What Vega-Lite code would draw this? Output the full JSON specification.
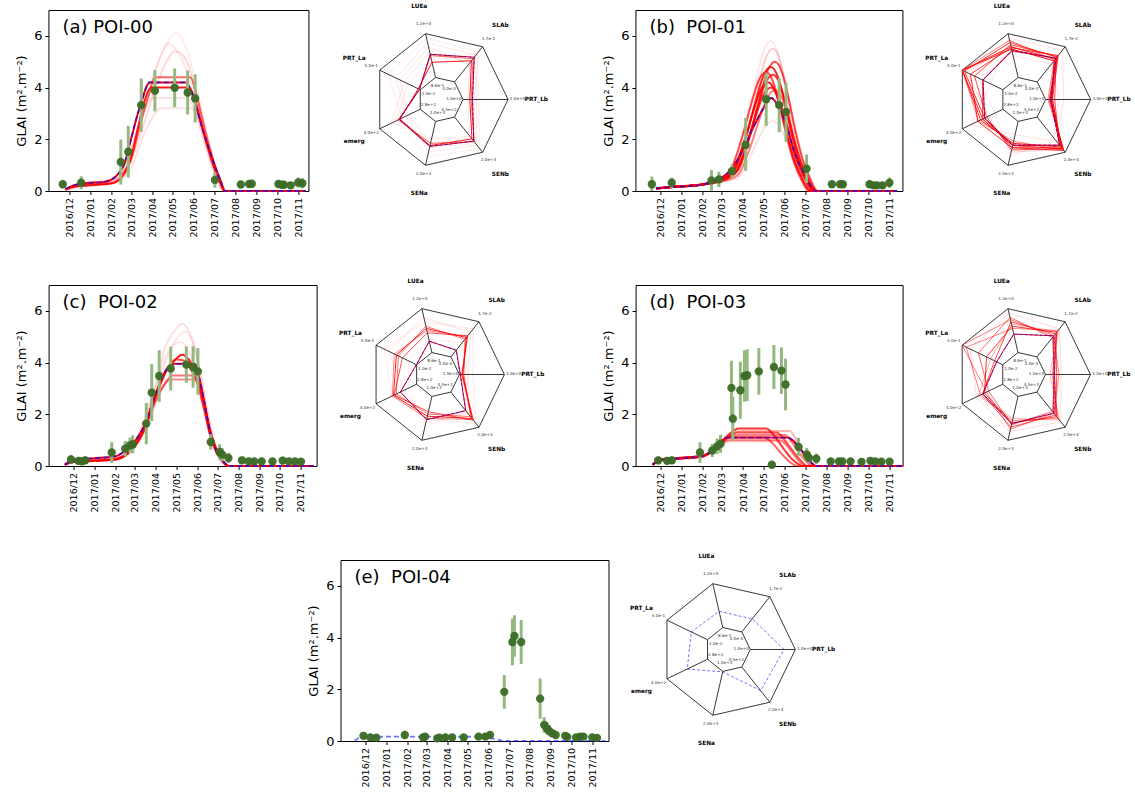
{
"$schema":"https://vega.github.io/schema/vega-lite/v6.json",
"padding":{"left":15,"top":3,"right":0,"bottom":0},
"config":{"view":{"stroke":"black","strokeWidth":1},"font":"DejaVu Sans","text":{"font":"DejaVu Sans"},
"title":{"anchor":"start","frame":"group","offset":-27,"dx":14,"fontSize":18,"fontWeight":"normal","font":"DejaVu Sans","color":"black"},
"axis":{"grid":false,"domain":false,"tickColor":"black","labelColor":"black","titleColor":"black","titleFontWeight":"normal","labelFont":"DejaVu Sans","titleFont":"DejaVu Sans"},
"axisX":{"labelAngle":-90,"labelFontSize":9.5,"tickSize":3.5,"labelPadding":3,"labelFlush":false,"labelOverlap":false,"format":"%Y/%m","title":null},
"axisY":{"labelFontSize":13,"titleFontSize":13,"tickSize":3.5,"labelPadding":3,"titlePadding":5,"labelFlush":false}},
"datasets":{
"axes":[{"k":0,"name":"PRT_Lb","hi":"1.0e+0","lo":"1.0e+0","ri":0.3333,"ro":1},{"k":1,"name":"SLAb","hi":"1.7e-2","lo":"4.0e-3","ri":0.3333,"ro":1},{"k":2,"name":"LUEa","hi":"1.2e+0","lo":"8.6e-1","ri":0.3333,"ro":1},{"k":3,"name":"PRT_La","hi":"5.0e-1","lo":"1.0e-2","ri":0.3333,"ro":1},{"k":4,"name":"emerg","hi":"4.0e+2","lo":"2.8e+2","ri":0.3333,"ro":1},{"k":5,"name":"SENa","hi":"2.0e+3","lo":"1.0e+3","ri":0.3333,"ro":1},{"k":6,"name":"SENb","hi":"2.0e+4","lo":"4.5e+2","ri":0.3333,"ro":1}],
"mem":[{"m":"a0","w":1},{"m":"a1","w":0.9},{"m":"a2","w":0.6},{"m":"a3","w":0.15},{"m":"a4","w":0.1},{"m":"a5","w":0.12},{"m":"a6","w":0.12},{"m":"a7","w":0.07},
{"m":"b0","w":1},{"m":"b1","w":0.85},{"m":"b2","w":0.8},{"m":"b3","w":0.9},{"m":"b4","w":0.7},{"m":"b5","w":0.5},{"m":"b6","w":0.7},{"m":"b7","w":0.2},{"m":"b8","w":0.12},{"m":"b9","w":0.1},{"m":"b10","w":0.8},
{"m":"c0","w":1},{"m":"c1","w":0.9},{"m":"c2","w":0.7},{"m":"c3","w":0.55},{"m":"c4","w":0.45},{"m":"c5","w":0.12},{"m":"c6","w":0.1},{"m":"c7","w":0.1},
{"m":"d0","w":1},{"m":"d1","w":0.8},{"m":"d2","w":0.7},{"m":"d3","w":0.5},{"m":"d4","w":0.5},{"m":"d5","w":0.3},{"m":"d6","w":0.6},{"m":"d7","w":0.15},
{"m":"e0","w":0}],
"rad":[
{"m":"a0","w":1,"LUEa":0.53,"SLAb":0.7,"PRT_Lb":0.21,"SENb":0.685,"SENa":0.57,"emerg":0.52,"PRT_La":0.02},
{"m":"a1","w":0.9,"LUEa":0.35,"SLAb":0.6,"PRT_Lb":0.15,"SENb":0.62,"SENa":0.55,"emerg":0.5,"PRT_La":0.05},
{"m":"a2","w":0.6,"LUEa":0.5,"SLAb":0.66,"PRT_Lb":0.18,"SENb":0.7,"SENa":0.5,"emerg":0.55,"PRT_La":0.02},
{"m":"a3","w":0.1,"LUEa":0.8,"SLAb":0.75,"PRT_Lb":0.3,"SENb":0.8,"SENa":0.7,"emerg":0.35,"PRT_La":0.6},
{"m":"a4","w":0.1,"LUEa":0.6,"SLAb":0.55,"PRT_Lb":0.1,"SENb":0.55,"SENa":0.4,"emerg":0.7,"PRT_La":0.4},
{"m":"a5","w":0.08,"LUEa":0.9,"SLAb":0.85,"PRT_Lb":0.25,"SENb":0.75,"SENa":0.6,"emerg":0.45,"PRT_La":0.8},
{"m":"a6","w":0.08,"LUEa":0.4,"SLAb":0.8,"PRT_Lb":0.35,"SENb":0.9,"SENa":0.8,"emerg":0.6,"PRT_La":0.3},
{"m":"a7","w":0.1,"LUEa":0.7,"SLAb":0.5,"PRT_Lb":0.2,"SENb":0.6,"SENa":0.5,"emerg":0.3,"PRT_La":0.5},
{"m":"b0","w":1,"LUEa":0.62,"SLAb":0.67,"PRT_Lb":0.115,"SENb":0.8,"SENa":0.54,"emerg":0.45,"PRT_La":0.49},
{"m":"b1","w":0.85,"LUEa":0.7,"SLAb":0.65,"PRT_Lb":0.1,"SENb":0.9,"SENa":0.55,"emerg":0.5,"PRT_La":1.0},
{"m":"b2","w":0.8,"LUEa":0.8,"SLAb":0.7,"PRT_Lb":0.08,"SENb":0.95,"SENa":0.6,"emerg":0.45,"PRT_La":0.95},
{"m":"b3","w":0.9,"LUEa":0.65,"SLAb":0.6,"PRT_Lb":0.15,"SENb":0.85,"SENa":0.5,"emerg":0.55,"PRT_La":1.0},
{"m":"b4","w":0.7,"LUEa":0.75,"SLAb":0.72,"PRT_Lb":0.12,"SENb":0.9,"SENa":0.65,"emerg":0.4,"PRT_La":0.7},
{"m":"b5","w":0.5,"LUEa":0.85,"SLAb":0.62,"PRT_Lb":0.05,"SENb":0.95,"SENa":0.45,"emerg":0.6,"PRT_La":1.0},
{"m":"b6","w":0.7,"LUEa":0.6,"SLAb":0.68,"PRT_Lb":0.2,"SENb":0.8,"SENa":0.55,"emerg":0.5,"PRT_La":0.5},
{"m":"b7","w":0.2,"LUEa":0.72,"SLAb":0.58,"PRT_Lb":0.1,"SENb":0.92,"SENa":0.7,"emerg":0.35,"PRT_La":0.9},
{"m":"b8","w":0.12,"LUEa":0.9,"SLAb":0.9,"PRT_Lb":0.4,"SENb":0.7,"SENa":0.3,"emerg":0.8,"PRT_La":0.3},
{"m":"b9","w":0.1,"LUEa":0.5,"SLAb":0.5,"PRT_Lb":0.3,"SENb":0.6,"SENa":0.8,"emerg":0.2,"PRT_La":0.6},
{"m":"b10","w":0.8,"LUEa":0.68,"SLAb":0.75,"PRT_Lb":0.15,"SENb":0.88,"SENa":0.6,"emerg":0.62,"PRT_La":0.8},
{"m":"c0","w":1,"LUEa":0.26,"SLAb":0.19,"PRT_Lb":0.02,"SENb":0.53,"SENa":0.53,"emerg":0.4,"PRT_La":0.005},
{"m":"c1","w":0.9,"LUEa":0.55,"SLAb":0.55,"PRT_Lb":0.07,"SENb":0.75,"SENa":0.45,"emerg":0.57,"PRT_La":0.5},
{"m":"c2","w":0.7,"LUEa":0.45,"SLAb":0.6,"PRT_Lb":0.05,"SENb":0.8,"SENa":0.35,"emerg":0.55,"PRT_La":0.35},
{"m":"c3","w":0.55,"LUEa":0.6,"SLAb":0.5,"PRT_Lb":0.1,"SENb":0.7,"SENa":0.4,"emerg":0.5,"PRT_La":0.45},
{"m":"c4","w":0.45,"LUEa":0.5,"SLAb":0.58,"PRT_Lb":0.08,"SENb":0.78,"SENa":0.5,"emerg":0.6,"PRT_La":0.55},
{"m":"c5","w":0.12,"LUEa":0.8,"SLAb":0.7,"PRT_Lb":0.2,"SENb":0.6,"SENa":0.6,"emerg":0.3,"PRT_La":0.7},
{"m":"c6","w":0.1,"LUEa":0.7,"SLAb":0.8,"PRT_Lb":0.3,"SENb":0.9,"SENa":0.5,"emerg":0.6,"PRT_La":0.8},
{"m":"c7","w":0.1,"LUEa":0.3,"SLAb":0.4,"PRT_Lb":0.15,"SENb":0.5,"SENa":0.7,"emerg":0.2,"PRT_La":0.2},
{"m":"d0","w":1,"LUEa":0.42,"SLAb":0.6,"PRT_Lb":0.19,"SENb":0.6,"SENa":0.62,"emerg":0.49,"PRT_La":0.15},
{"m":"d1","w":0.8,"LUEa":0.6,"SLAb":0.7,"PRT_Lb":0.2,"SENb":0.7,"SENa":0.6,"emerg":0.45,"PRT_La":0.4},
{"m":"d2","w":0.7,"LUEa":0.7,"SLAb":0.65,"PRT_Lb":0.25,"SENb":0.65,"SENa":0.7,"emerg":0.5,"PRT_La":0.2},
{"m":"d3","w":0.5,"LUEa":0.55,"SLAb":0.75,"PRT_Lb":0.15,"SENb":0.75,"SENa":0.55,"emerg":0.55,"PRT_La":0.9},
{"m":"d4","w":0.5,"LUEa":0.75,"SLAb":0.6,"PRT_Lb":0.3,"SENb":0.6,"SENa":0.75,"emerg":0.4,"PRT_La":1.0},
{"m":"d5","w":0.3,"LUEa":0.65,"SLAb":0.72,"PRT_Lb":0.1,"SENb":0.8,"SENa":0.5,"emerg":0.6,"PRT_La":0.3},
{"m":"d6","w":0.6,"LUEa":0.8,"SLAb":0.55,"PRT_Lb":0.2,"SENb":0.55,"SENa":0.65,"emerg":0.35,"PRT_La":0.6},
{"m":"d7","w":0.15,"LUEa":0.9,"SLAb":0.8,"PRT_Lb":0.35,"SENb":0.85,"SENa":0.8,"emerg":0.65,"PRT_La":0.8},
{"m":"e0","w":0,"LUEa":0.37,"SLAb":0.37,"PRT_Lb":0.75,"SENb":0.67,"SENa":0.01,"emerg":0.5,"PRT_La":0.4}],
"obs":[
{"p":"a","d":"2016-11-21","v":0.26,"lo":0.11,"hi":0.41},{"p":"a","d":"2016-12-18","v":0.32,"lo":0.07,"hi":0.57},{"p":"a","d":"2017-02-14","v":1.12,"lo":0.25,"hi":1.99},{"p":"a","d":"2017-02-25","v":1.52,"lo":0.52,"hi":2.52},{"p":"a","d":"2017-03-16","v":3.32,"lo":2.29,"hi":4.35},{"p":"a","d":"2017-04-05","v":3.88,"lo":3.08,"hi":4.68},{"p":"a","d":"2017-05-04","v":3.99,"lo":3.24,"hi":4.74},{"p":"a","d":"2017-05-23","v":3.81,"lo":2.96,"hi":4.66},{"p":"a","d":"2017-06-03","v":3.58,"lo":2.65,"hi":4.51},{"p":"a","d":"2017-07-02","v":0.43,"lo":0.13,"hi":0.73},{"p":"a","d":"2017-08-09","v":0.25,"lo":0.13,"hi":0.37},{"p":"a","d":"2017-08-21","v":0.27,"lo":0.12,"hi":0.42},{"p":"a","d":"2017-08-25","v":0.28,"lo":0.13,"hi":0.43},{"p":"a","d":"2017-10-03","v":0.27,"lo":0.12,"hi":0.42},{"p":"a","d":"2017-10-08","v":0.24,"lo":0.12,"hi":0.36},{"p":"a","d":"2017-10-11","v":0.24,"lo":0.12,"hi":0.36},{"p":"a","d":"2017-10-21","v":0.22,"lo":0.1,"hi":0.34},{"p":"a","d":"2017-11-01","v":0.33,"lo":0.13,"hi":0.53},{"p":"a","d":"2017-11-07","v":0.3,"lo":0.1,"hi":0.5},
{"p":"b","d":"2016-11-19","v":0.26,"lo":0.0,"hi":0.56},{"p":"b","d":"2016-12-18","v":0.32,"lo":0.12,"hi":0.52},{"p":"b","d":"2017-02-14","v":0.41,"lo":0.01,"hi":0.81},{"p":"b","d":"2017-02-25","v":0.45,"lo":0.15,"hi":0.75},{"p":"b","d":"2017-03-16","v":0.77,"lo":0.52,"hi":1.02},{"p":"b","d":"2017-04-05","v":1.78,"lo":0.78,"hi":2.83},{"p":"b","d":"2017-05-05","v":3.55,"lo":2.52,"hi":4.58},{"p":"b","d":"2017-05-24","v":3.32,"lo":2.27,"hi":4.37},{"p":"b","d":"2017-06-03","v":3.06,"lo":1.9,"hi":4.2},{"p":"b","d":"2017-07-03","v":0.86,"lo":0.31,"hi":1.41},{"p":"b","d":"2017-08-09","v":0.26,"lo":0.14,"hi":0.38},{"p":"b","d":"2017-08-21","v":0.26,"lo":0.14,"hi":0.38},{"p":"b","d":"2017-08-25","v":0.26,"lo":0.14,"hi":0.38},{"p":"b","d":"2017-10-03","v":0.26,"lo":0.14,"hi":0.38},{"p":"b","d":"2017-10-09","v":0.22,"lo":0.1,"hi":0.34},{"p":"b","d":"2017-10-14","v":0.22,"lo":0.1,"hi":0.34},{"p":"b","d":"2017-10-22","v":0.22,"lo":0.1,"hi":0.34},{"p":"b","d":"2017-11-01","v":0.32,"lo":0.12,"hi":0.52},
{"p":"c","d":"2016-11-27","v":0.25,"lo":0.08,"hi":0.42},{"p":"c","d":"2016-12-08","v":0.2,"lo":0.05,"hi":0.35},{"p":"c","d":"2016-12-13","v":0.18,"lo":0.03,"hi":0.33},{"p":"c","d":"2016-12-18","v":0.22,"lo":0.07,"hi":0.37},{"p":"c","d":"2017-01-26","v":0.52,"lo":0.12,"hi":0.92},{"p":"c","d":"2017-02-15","v":0.67,"lo":0.37,"hi":0.97},{"p":"c","d":"2017-02-22","v":0.8,"lo":0.5,"hi":1.1},{"p":"c","d":"2017-02-26","v":0.84,"lo":0.49,"hi":1.19},{"p":"c","d":"2017-03-18","v":1.64,"lo":0.84,"hi":2.44},{"p":"c","d":"2017-03-26","v":2.84,"lo":1.74,"hi":3.94},{"p":"c","d":"2017-04-06","v":3.48,"lo":2.48,"hi":4.48},{"p":"c","d":"2017-04-23","v":3.77,"lo":2.92,"hi":4.62},{"p":"c","d":"2017-05-16","v":3.92,"lo":3.22,"hi":4.62},{"p":"c","d":"2017-05-26","v":3.83,"lo":3.03,"hi":4.63},{"p":"c","d":"2017-06-02","v":3.66,"lo":2.76,"hi":4.56},{"p":"c","d":"2017-06-21","v":0.93,"lo":0.63,"hi":1.23},{"p":"c","d":"2017-07-04","v":0.54,"lo":0.24,"hi":0.84},{"p":"c","d":"2017-07-08","v":0.44,"lo":0.19,"hi":0.69},{"p":"c","d":"2017-07-17","v":0.31,"lo":0.11,"hi":0.51},{"p":"c","d":"2017-08-06","v":0.22,"lo":0.07,"hi":0.37},{"p":"c","d":"2017-08-16","v":0.18,"lo":0.05,"hi":0.31},{"p":"c","d":"2017-08-24","v":0.18,"lo":0.05,"hi":0.31},{"p":"c","d":"2017-09-04","v":0.18,"lo":0.05,"hi":0.31},{"p":"c","d":"2017-09-20","v":0.18,"lo":0.05,"hi":0.31},{"p":"c","d":"2017-10-05","v":0.21,"lo":0.06,"hi":0.36},{"p":"c","d":"2017-10-14","v":0.18,"lo":0.05,"hi":0.31},{"p":"c","d":"2017-10-23","v":0.18,"lo":0.05,"hi":0.31},{"p":"c","d":"2017-11-01","v":0.17,"lo":0.05,"hi":0.29},
{"p":"d","d":"2016-11-28","v":0.22,"lo":0.07,"hi":0.37},{"p":"d","d":"2016-12-11","v":0.2,"lo":0.05,"hi":0.35},{"p":"d","d":"2016-12-18","v":0.22,"lo":0.07,"hi":0.37},{"p":"d","d":"2017-01-28","v":0.52,"lo":0.12,"hi":0.92},{"p":"d","d":"2017-02-15","v":0.6,"lo":0.35,"hi":0.85},{"p":"d","d":"2017-02-22","v":0.76,"lo":0.46,"hi":1.06},{"p":"d","d":"2017-02-27","v":0.86,"lo":0.51,"hi":1.21},{"p":"d","d":"2017-03-15","v":3.02,"lo":1.97,"hi":4.07},{"p":"d","d":"2017-03-17","v":1.83,"lo":0.98,"hi":2.68},{"p":"d","d":"2017-03-28","v":2.93,"lo":1.83,"hi":4.03},{"p":"d","d":"2017-04-03","v":3.48,"lo":2.48,"hi":4.48},{"p":"d","d":"2017-04-07","v":3.51,"lo":2.51,"hi":4.51},{"p":"d","d":"2017-04-24","v":3.66,"lo":2.76,"hi":4.56},{"p":"d","d":"2017-05-13","v":0.05,"lo":0.0,"hi":0.1},{"p":"d","d":"2017-05-16","v":3.83,"lo":2.98,"hi":4.68},{"p":"d","d":"2017-05-27","v":3.69,"lo":2.79,"hi":4.59},{"p":"d","d":"2017-06-02","v":3.15,"lo":2.15,"hi":4.15},{"p":"d","d":"2017-06-21","v":0.74,"lo":0.39,"hi":1.09},{"p":"d","d":"2017-07-03","v":0.45,"lo":0.2,"hi":0.7},{"p":"d","d":"2017-07-06","v":0.32,"lo":0.12,"hi":0.52},{"p":"d","d":"2017-07-17","v":0.28,"lo":0.08,"hi":0.48},{"p":"d","d":"2017-08-07","v":0.18,"lo":0.05,"hi":0.31},{"p":"d","d":"2017-08-19","v":0.18,"lo":0.05,"hi":0.31},{"p":"d","d":"2017-08-24","v":0.18,"lo":0.05,"hi":0.31},{"p":"d","d":"2017-09-05","v":0.18,"lo":0.05,"hi":0.31},{"p":"d","d":"2017-09-21","v":0.16,"lo":0.04,"hi":0.28},{"p":"d","d":"2017-10-04","v":0.2,"lo":0.06,"hi":0.34},{"p":"d","d":"2017-10-11","v":0.18,"lo":0.05,"hi":0.31},{"p":"d","d":"2017-10-20","v":0.17,"lo":0.05,"hi":0.29},{"p":"d","d":"2017-11-01","v":0.17,"lo":0.05,"hi":0.29},
{"p":"e","d":"2016-11-28","v":0.2,"lo":0.05,"hi":0.35},{"p":"e","d":"2016-12-08","v":0.14,"lo":0.03,"hi":0.25},{"p":"e","d":"2016-12-17","v":0.13,"lo":0.03,"hi":0.23},{"p":"e","d":"2017-01-28","v":0.23,"lo":0.08,"hi":0.38},{"p":"e","d":"2017-02-24","v":0.14,"lo":0.03,"hi":0.25},{"p":"e","d":"2017-02-27","v":0.17,"lo":0.05,"hi":0.29},{"p":"e","d":"2017-03-17","v":0.1,"lo":0.02,"hi":0.2},{"p":"e","d":"2017-03-20","v":0.13,"lo":0.03,"hi":0.25},{"p":"e","d":"2017-03-29","v":0.14,"lo":0.03,"hi":0.27},{"p":"e","d":"2017-04-08","v":0.14,"lo":0.03,"hi":0.27},{"p":"e","d":"2017-04-25","v":0.14,"lo":0.03,"hi":0.27},{"p":"e","d":"2017-05-17","v":0.17,"lo":0.05,"hi":0.29},{"p":"e","d":"2017-05-27","v":0.17,"lo":0.05,"hi":0.29},{"p":"e","d":"2017-06-03","v":0.23,"lo":0.08,"hi":0.38},{"p":"e","d":"2017-06-24","v":1.9,"lo":1.25,"hi":2.55},{"p":"e","d":"2017-07-06","v":3.83,"lo":2.93,"hi":4.73},{"p":"e","d":"2017-07-09","v":4.06,"lo":3.26,"hi":4.86},{"p":"e","d":"2017-07-19","v":3.83,"lo":2.98,"hi":4.68},{"p":"e","d":"2017-08-16","v":1.64,"lo":0.86,"hi":2.42},{"p":"e","d":"2017-08-22","v":0.62,"lo":0.32,"hi":0.92},{"p":"e","d":"2017-08-26","v":0.49,"lo":0.24,"hi":0.74},{"p":"e","d":"2017-08-29","v":0.4,"lo":0.2,"hi":0.6},{"p":"e","d":"2017-09-03","v":0.3,"lo":0.15,"hi":0.45},{"p":"e","d":"2017-09-08","v":0.23,"lo":0.1,"hi":0.36},{"p":"e","d":"2017-09-22","v":0.2,"lo":0.07,"hi":0.33},{"p":"e","d":"2017-09-25","v":0.16,"lo":0.05,"hi":0.27},{"p":"e","d":"2017-10-08","v":0.14,"lo":0.03,"hi":0.25},{"p":"e","d":"2017-10-14","v":0.17,"lo":0.05,"hi":0.29},{"p":"e","d":"2017-10-19","v":0.17,"lo":0.05,"hi":0.29},{"p":"e","d":"2017-11-01","v":0.14,"lo":0.03,"hi":0.25},{"p":"e","d":"2017-11-08","v":0.12,"lo":0.02,"hi":0.22}],
"sim":[
{"m":"a0","d":"2016-11-25","v":0.08},{"m":"a0","d":"2016-12-05","v":0.2},{"m":"a0","d":"2016-12-25","v":0.3},{"m":"a0","d":"2017-01-20","v":0.35},{"m":"a0","d":"2017-02-01","v":0.45},{"m":"a0","d":"2017-02-10","v":0.65},{"m":"a0","d":"2017-02-20","v":1.1},{"m":"a0","d":"2017-03-01","v":2.0},{"m":"a0","d":"2017-03-10","v":2.9},{"m":"a0","d":"2017-03-17","v":3.5},{"m":"a0","d":"2017-03-24","v":4.05},{"m":"a0","d":"2017-03-28","v":4.2},{"m":"a0","d":"2017-05-20","v":4.2},{"m":"a0","d":"2017-05-27","v":3.95},{"m":"a0","d":"2017-06-05","v":3.2},{"m":"a0","d":"2017-06-15","v":2.3},{"m":"a0","d":"2017-06-25","v":1.5},{"m":"a0","d":"2017-07-05","v":0.75},{"m":"a0","d":"2017-07-11","v":0.35},{"m":"a0","d":"2017-07-15","v":0.05},{"m":"a0","d":"2017-07-16","v":0},{"m":"a0","d":"2017-11-12","v":0},
{"m":"a1","d":"2016-11-25","v":0.05},{"m":"a1","d":"2016-12-10","v":0.18},{"m":"a1","d":"2017-01-01","v":0.22},{"m":"a1","d":"2017-02-01","v":0.3},{"m":"a1","d":"2017-02-15","v":0.55},{"m":"a1","d":"2017-03-01","v":1.3},{"m":"a1","d":"2017-03-10","v":2.3},{"m":"a1","d":"2017-03-20","v":3.4},{"m":"a1","d":"2017-03-30","v":4.0},{"m":"a1","d":"2017-05-25","v":4.0},{"m":"a1","d":"2017-06-03","v":3.5},{"m":"a1","d":"2017-06-15","v":2.3},{"m":"a1","d":"2017-06-28","v":1.1},{"m":"a1","d":"2017-07-10","v":0.3},{"m":"a1","d":"2017-07-16","v":0},{"m":"a1","d":"2017-11-12","v":0},
{"m":"a2","d":"2016-11-25","v":0.05},{"m":"a2","d":"2016-12-10","v":0.2},{"m":"a2","d":"2017-01-01","v":0.25},{"m":"a2","d":"2017-02-01","v":0.3},{"m":"a2","d":"2017-02-15","v":0.5},{"m":"a2","d":"2017-03-01","v":1.2},{"m":"a2","d":"2017-03-15","v":2.6},{"m":"a2","d":"2017-03-28","v":3.8},{"m":"a2","d":"2017-04-05","v":4.4},{"m":"a2","d":"2017-05-27","v":4.4},{"m":"a2","d":"2017-06-05","v":3.7},{"m":"a2","d":"2017-06-15","v":2.6},{"m":"a2","d":"2017-06-28","v":1.3},{"m":"a2","d":"2017-07-10","v":0.35},{"m":"a2","d":"2017-07-17","v":0},{"m":"a2","d":"2017-11-12","v":0},
{"m":"a3","d":"2016-11-25","v":0.05},{"m":"a3","d":"2017-01-01","v":0.3},{"m":"a3","d":"2017-02-01","v":0.4},{"m":"a3","d":"2017-03-01","v":1.2},{"m":"a3","d":"2017-03-20","v":2.6},{"m":"a3","d":"2017-04-05","v":3.9},{"m":"a3","d":"2017-04-20","v":4.9},{"m":"a3","d":"2017-05-05","v":5.4},{"m":"a3","d":"2017-05-20","v":5.1},{"m":"a3","d":"2017-06-05","v":3.8},{"m":"a3","d":"2017-06-20","v":2.2},{"m":"a3","d":"2017-07-05","v":0.8},{"m":"a3","d":"2017-07-18","v":0},{"m":"a3","d":"2017-11-12","v":0},
{"m":"a4","d":"2016-11-25","v":0.05},{"m":"a4","d":"2017-01-01","v":0.35},{"m":"a4","d":"2017-02-01","v":0.45},{"m":"a4","d":"2017-03-01","v":1.6},{"m":"a4","d":"2017-03-20","v":3.3},{"m":"a4","d":"2017-04-10","v":5.0},{"m":"a4","d":"2017-04-25","v":5.7},{"m":"a4","d":"2017-05-10","v":5.3},{"m":"a4","d":"2017-05-25","v":4.4},{"m":"a4","d":"2017-06-10","v":2.9},{"m":"a4","d":"2017-06-25","v":1.4},{"m":"a4","d":"2017-07-10","v":0.3},{"m":"a4","d":"2017-07-18","v":0},{"m":"a4","d":"2017-11-12","v":0},
{"m":"a5","d":"2016-11-25","v":0.05},{"m":"a5","d":"2017-01-01","v":0.25},{"m":"a5","d":"2017-02-01","v":0.3},{"m":"a5","d":"2017-03-01","v":0.9},{"m":"a5","d":"2017-03-20","v":2.2},{"m":"a5","d":"2017-04-05","v":3.0},{"m":"a5","d":"2017-04-12","v":3.2},{"m":"a5","d":"2017-05-28","v":3.2},{"m":"a5","d":"2017-06-08","v":2.7},{"m":"a5","d":"2017-06-20","v":1.7},{"m":"a5","d":"2017-07-02","v":0.7},{"m":"a5","d":"2017-07-15","v":0},{"m":"a5","d":"2017-11-12","v":0},
{"m":"a6","d":"2016-11-25","v":0.05},{"m":"a6","d":"2017-01-01","v":0.28},{"m":"a6","d":"2017-02-01","v":0.35},{"m":"a6","d":"2017-03-01","v":1.5},{"m":"a6","d":"2017-03-15","v":2.8},{"m":"a6","d":"2017-03-28","v":3.5},{"m":"a6","d":"2017-04-01","v":3.6},{"m":"a6","d":"2017-05-22","v":3.6},{"m":"a6","d":"2017-06-02","v":3.1},{"m":"a6","d":"2017-06-15","v":2.0},{"m":"a6","d":"2017-06-28","v":0.9},{"m":"a6","d":"2017-07-12","v":0.1},{"m":"a6","d":"2017-07-15","v":0},{"m":"a6","d":"2017-11-12","v":0},
{"m":"a7","d":"2016-11-25","v":0.05},{"m":"a7","d":"2017-01-01","v":0.3},{"m":"a7","d":"2017-02-01","v":0.4},{"m":"a7","d":"2017-03-01","v":1.3},{"m":"a7","d":"2017-03-25","v":3.5},{"m":"a7","d":"2017-04-15","v":5.3},{"m":"a7","d":"2017-05-08","v":6.1},{"m":"a7","d":"2017-05-25","v":5.2},{"m":"a7","d":"2017-06-10","v":3.4},{"m":"a7","d":"2017-06-25","v":1.6},{"m":"a7","d":"2017-07-10","v":0.3},{"m":"a7","d":"2017-07-18","v":0},{"m":"a7","d":"2017-11-12","v":0},
{"m":"b0","d":"2016-11-25","v":0.1},{"m":"b0","d":"2016-12-15","v":0.15},{"m":"b0","d":"2017-01-15","v":0.2},{"m":"b0","d":"2017-02-01","v":0.25},{"m":"b0","d":"2017-02-15","v":0.35},{"m":"b0","d":"2017-03-01","v":0.5},{"m":"b0","d":"2017-03-15","v":0.85},{"m":"b0","d":"2017-04-01","v":1.6},{"m":"b0","d":"2017-04-15","v":2.4},{"m":"b0","d":"2017-05-01","v":3.2},{"m":"b0","d":"2017-05-12","v":3.6},{"m":"b0","d":"2017-05-20","v":3.4},{"m":"b0","d":"2017-05-25","v":3.15},{"m":"b0","d":"2017-06-04","v":2.55},{"m":"b0","d":"2017-06-14","v":1.6},{"m":"b0","d":"2017-06-22","v":1.05},{"m":"b0","d":"2017-06-29","v":0.7},{"m":"b0","d":"2017-07-08","v":0.25},{"m":"b0","d":"2017-07-16","v":0},{"m":"b0","d":"2017-11-12","v":0},
{"m":"b1","d":"2016-11-25","v":0.1},{"m":"b1","d":"2017-01-01","v":0.18},{"m":"b1","d":"2017-02-01","v":0.25},{"m":"b1","d":"2017-03-01","v":0.45},{"m":"b1","d":"2017-03-20","v":0.82},{"m":"b1","d":"2017-04-05","v":2.02},{"m":"b1","d":"2017-04-20","v":3.5},{"m":"b1","d":"2017-05-01","v":4.46},{"m":"b1","d":"2017-05-12","v":4.8},{"m":"b1","d":"2017-05-22","v":4.42},{"m":"b1","d":"2017-06-01","v":3.41},{"m":"b1","d":"2017-06-11","v":2.21},{"m":"b1","d":"2017-06-21","v":1.2},{"m":"b1","d":"2017-07-01","v":0.53},{"m":"b1","d":"2017-07-13","v":0},{"m":"b1","d":"2017-11-12","v":0},
{"m":"b2","d":"2016-11-25","v":0.1},{"m":"b2","d":"2017-01-01","v":0.18},{"m":"b2","d":"2017-02-01","v":0.25},{"m":"b2","d":"2017-03-04","v":0.45},{"m":"b2","d":"2017-03-23","v":0.77},{"m":"b2","d":"2017-04-08","v":1.89},{"m":"b2","d":"2017-04-23","v":3.29},{"m":"b2","d":"2017-05-04","v":4.19},{"m":"b2","d":"2017-05-15","v":4.5},{"m":"b2","d":"2017-05-25","v":4.14},{"m":"b2","d":"2017-06-04","v":3.2},{"m":"b2","d":"2017-06-14","v":2.07},{"m":"b2","d":"2017-06-24","v":1.13},{"m":"b2","d":"2017-07-04","v":0.5},{"m":"b2","d":"2017-07-16","v":0},{"m":"b2","d":"2017-11-12","v":0},
{"m":"b3","d":"2016-11-25","v":0.1},{"m":"b3","d":"2017-01-01","v":0.18},{"m":"b3","d":"2017-02-01","v":0.25},{"m":"b3","d":"2017-02-25","v":0.45},{"m":"b3","d":"2017-03-16","v":0.71},{"m":"b3","d":"2017-04-01","v":1.76},{"m":"b3","d":"2017-04-16","v":3.07},{"m":"b3","d":"2017-04-27","v":3.91},{"m":"b3","d":"2017-05-08","v":4.2},{"m":"b3","d":"2017-05-18","v":3.86},{"m":"b3","d":"2017-05-28","v":2.98},{"m":"b3","d":"2017-06-07","v":1.93},{"m":"b3","d":"2017-06-17","v":1.05},{"m":"b3","d":"2017-06-27","v":0.46},{"m":"b3","d":"2017-07-09","v":0},{"m":"b3","d":"2017-11-12","v":0},
{"m":"b4","d":"2016-11-25","v":0.1},{"m":"b4","d":"2017-01-01","v":0.18},{"m":"b4","d":"2017-02-01","v":0.25},{"m":"b4","d":"2017-03-07","v":0.45},{"m":"b4","d":"2017-03-26","v":0.85},{"m":"b4","d":"2017-04-11","v":2.1},{"m":"b4","d":"2017-04-26","v":3.65},{"m":"b4","d":"2017-05-07","v":4.65},{"m":"b4","d":"2017-05-18","v":5.0},{"m":"b4","d":"2017-05-28","v":4.6},{"m":"b4","d":"2017-06-07","v":3.55},{"m":"b4","d":"2017-06-17","v":2.3},{"m":"b4","d":"2017-06-27","v":1.25},{"m":"b4","d":"2017-07-07","v":0.55},{"m":"b4","d":"2017-07-19","v":0},{"m":"b4","d":"2017-11-12","v":0},
{"m":"b5","d":"2016-11-25","v":0.1},{"m":"b5","d":"2017-01-01","v":0.18},{"m":"b5","d":"2017-02-01","v":0.25},{"m":"b5","d":"2017-03-07","v":0.4},{"m":"b5","d":"2017-03-26","v":0.66},{"m":"b5","d":"2017-04-11","v":1.64},{"m":"b5","d":"2017-04-26","v":2.85},{"m":"b5","d":"2017-05-07","v":3.63},{"m":"b5","d":"2017-05-18","v":3.9},{"m":"b5","d":"2017-05-28","v":3.59},{"m":"b5","d":"2017-06-07","v":2.77},{"m":"b5","d":"2017-06-17","v":1.79},{"m":"b5","d":"2017-06-27","v":0.98},{"m":"b5","d":"2017-07-07","v":0.43},{"m":"b5","d":"2017-07-19","v":0},{"m":"b5","d":"2017-11-12","v":0},
{"m":"b6","d":"2016-11-25","v":0.1},{"m":"b6","d":"2017-01-01","v":0.18},{"m":"b6","d":"2017-02-01","v":0.25},{"m":"b6","d":"2017-02-22","v":0.45},{"m":"b6","d":"2017-03-13","v":0.78},{"m":"b6","d":"2017-03-29","v":1.93},{"m":"b6","d":"2017-04-13","v":3.36},{"m":"b6","d":"2017-04-24","v":4.28},{"m":"b6","d":"2017-05-05","v":4.6},{"m":"b6","d":"2017-05-15","v":4.23},{"m":"b6","d":"2017-05-25","v":3.27},{"m":"b6","d":"2017-06-04","v":2.12},{"m":"b6","d":"2017-06-14","v":1.15},{"m":"b6","d":"2017-06-24","v":0.51},{"m":"b6","d":"2017-07-06","v":0},{"m":"b6","d":"2017-11-12","v":0},
{"m":"b7","d":"2016-11-25","v":0.1},{"m":"b7","d":"2017-01-01","v":0.18},{"m":"b7","d":"2017-02-01","v":0.25},{"m":"b7","d":"2017-03-04","v":0.45},{"m":"b7","d":"2017-03-23","v":0.94},{"m":"b7","d":"2017-04-08","v":2.31},{"m":"b7","d":"2017-04-23","v":4.02},{"m":"b7","d":"2017-05-04","v":5.12},{"m":"b7","d":"2017-05-15","v":5.5},{"m":"b7","d":"2017-05-25","v":5.06},{"m":"b7","d":"2017-06-04","v":3.91},{"m":"b7","d":"2017-06-14","v":2.53},{"m":"b7","d":"2017-06-24","v":1.38},{"m":"b7","d":"2017-07-04","v":0.61},{"m":"b7","d":"2017-07-16","v":0},{"m":"b7","d":"2017-11-12","v":0},
{"m":"b8","d":"2016-11-25","v":0.1},{"m":"b8","d":"2017-01-01","v":0.18},{"m":"b8","d":"2017-02-01","v":0.25},{"m":"b8","d":"2017-03-04","v":0.4},{"m":"b8","d":"2017-03-23","v":0.46},{"m":"b8","d":"2017-04-08","v":1.13},{"m":"b8","d":"2017-04-23","v":1.97},{"m":"b8","d":"2017-05-04","v":2.51},{"m":"b8","d":"2017-05-15","v":2.7},{"m":"b8","d":"2017-05-25","v":2.48},{"m":"b8","d":"2017-06-04","v":1.92},{"m":"b8","d":"2017-06-14","v":1.24},{"m":"b8","d":"2017-06-24","v":0.68},{"m":"b8","d":"2017-07-04","v":0.3},{"m":"b8","d":"2017-07-16","v":0},{"m":"b8","d":"2017-11-12","v":0},
{"m":"b9","d":"2016-11-25","v":0.1},{"m":"b9","d":"2017-01-01","v":0.18},{"m":"b9","d":"2017-02-01","v":0.25},{"m":"b9","d":"2017-03-01","v":0.45},{"m":"b9","d":"2017-03-20","v":0.99},{"m":"b9","d":"2017-04-05","v":2.44},{"m":"b9","d":"2017-04-20","v":4.23},{"m":"b9","d":"2017-05-01","v":5.39},{"m":"b9","d":"2017-05-12","v":5.8},{"m":"b9","d":"2017-05-22","v":5.34},{"m":"b9","d":"2017-06-01","v":4.12},{"m":"b9","d":"2017-06-11","v":2.67},{"m":"b9","d":"2017-06-21","v":1.45},{"m":"b9","d":"2017-07-01","v":0.64},{"m":"b9","d":"2017-07-13","v":0},{"m":"b9","d":"2017-11-12","v":0},
{"m":"b10","d":"2016-11-25","v":0.1},{"m":"b10","d":"2017-01-01","v":0.18},{"m":"b10","d":"2017-02-01","v":0.25},{"m":"b10","d":"2017-03-01","v":0.45},{"m":"b10","d":"2017-03-20","v":0.68},{"m":"b10","d":"2017-04-05","v":1.68},{"m":"b10","d":"2017-04-20","v":2.92},{"m":"b10","d":"2017-05-01","v":3.72},{"m":"b10","d":"2017-05-12","v":4.0},{"m":"b10","d":"2017-05-22","v":3.68},{"m":"b10","d":"2017-06-01","v":2.84},{"m":"b10","d":"2017-06-11","v":1.84},{"m":"b10","d":"2017-06-21","v":1.0},{"m":"b10","d":"2017-07-01","v":0.44},{"m":"b10","d":"2017-07-13","v":0},{"m":"b10","d":"2017-11-12","v":0},
{"m":"c0","d":"2016-11-18","v":0.05},{"m":"c0","d":"2016-12-01","v":0.25},{"m":"c0","d":"2017-01-01","v":0.3},{"m":"c0","d":"2017-02-01","v":0.38},{"m":"c0","d":"2017-02-15","v":0.6},{"m":"c0","d":"2017-03-01","v":0.95},{"m":"c0","d":"2017-03-15","v":1.55},{"m":"c0","d":"2017-04-01","v":2.8},{"m":"c0","d":"2017-04-10","v":3.4},{"m":"c0","d":"2017-04-20","v":3.85},{"m":"c0","d":"2017-04-28","v":3.95},{"m":"c0","d":"2017-05-28","v":3.95},{"m":"c0","d":"2017-06-05","v":3.3},{"m":"c0","d":"2017-06-12","v":2.4},{"m":"c0","d":"2017-06-20","v":1.3},{"m":"c0","d":"2017-06-27","v":0.75},{"m":"c0","d":"2017-07-05","v":0.35},{"m":"c0","d":"2017-07-12","v":0.1},{"m":"c0","d":"2017-07-17","v":0},{"m":"c0","d":"2017-11-20","v":0},
{"m":"c1","d":"2016-11-18","v":0.05},{"m":"c1","d":"2016-12-01","v":0.15},{"m":"c1","d":"2017-01-01","v":0.2},{"m":"c1","d":"2017-02-01","v":0.25},{"m":"c1","d":"2017-02-15","v":0.4},{"m":"c1","d":"2017-03-01","v":0.75},{"m":"c1","d":"2017-03-15","v":1.4},{"m":"c1","d":"2017-04-01","v":2.7},{"m":"c1","d":"2017-04-15","v":3.6},{"m":"c1","d":"2017-05-01","v":4.15},{"m":"c1","d":"2017-05-10","v":4.3},{"m":"c1","d":"2017-05-20","v":4.1},{"m":"c1","d":"2017-06-01","v":3.5},{"m":"c1","d":"2017-06-10","v":2.6},{"m":"c1","d":"2017-06-20","v":1.4},{"m":"c1","d":"2017-07-01","v":0.55},{"m":"c1","d":"2017-07-12","v":0.1},{"m":"c1","d":"2017-07-17","v":0},{"m":"c1","d":"2017-11-20","v":0},
{"m":"c2","d":"2016-11-18","v":0.05},{"m":"c2","d":"2016-12-01","v":0.15},{"m":"c2","d":"2017-01-01","v":0.2},{"m":"c2","d":"2017-02-01","v":0.25},{"m":"c2","d":"2017-02-15","v":0.4},{"m":"c2","d":"2017-03-01","v":0.8},{"m":"c2","d":"2017-03-15","v":1.5},{"m":"c2","d":"2017-04-01","v":2.8},{"m":"c2","d":"2017-04-15","v":3.65},{"m":"c2","d":"2017-05-01","v":4.12},{"m":"c2","d":"2017-05-10","v":4.1},{"m":"c2","d":"2017-05-20","v":3.85},{"m":"c2","d":"2017-06-01","v":3.2},{"m":"c2","d":"2017-06-10","v":2.3},{"m":"c2","d":"2017-06-20","v":1.2},{"m":"c2","d":"2017-07-01","v":0.45},{"m":"c2","d":"2017-07-12","v":0.08},{"m":"c2","d":"2017-07-17","v":0},{"m":"c2","d":"2017-11-20","v":0},
{"m":"c3","d":"2016-11-18","v":0.05},{"m":"c3","d":"2016-12-01","v":0.15},{"m":"c3","d":"2017-01-01","v":0.2},{"m":"c3","d":"2017-02-01","v":0.25},{"m":"c3","d":"2017-02-15","v":0.4},{"m":"c3","d":"2017-03-01","v":0.75},{"m":"c3","d":"2017-03-15","v":1.35},{"m":"c3","d":"2017-04-01","v":2.5},{"m":"c3","d":"2017-04-15","v":3.2},{"m":"c3","d":"2017-04-25","v":3.5},{"m":"c3","d":"2017-05-28","v":3.5},{"m":"c3","d":"2017-06-05","v":3.0},{"m":"c3","d":"2017-06-12","v":2.2},{"m":"c3","d":"2017-06-20","v":1.2},{"m":"c3","d":"2017-06-27","v":0.65},{"m":"c3","d":"2017-07-05","v":0.3},{"m":"c3","d":"2017-07-12","v":0.08},{"m":"c3","d":"2017-07-17","v":0},{"m":"c3","d":"2017-11-20","v":0},
{"m":"c4","d":"2016-11-18","v":0.05},{"m":"c4","d":"2016-12-01","v":0.18},{"m":"c4","d":"2017-01-01","v":0.22},{"m":"c4","d":"2017-02-01","v":0.28},{"m":"c4","d":"2017-02-15","v":0.45},{"m":"c4","d":"2017-03-01","v":0.8},{"m":"c4","d":"2017-03-15","v":1.45},{"m":"c4","d":"2017-04-01","v":2.6},{"m":"c4","d":"2017-04-15","v":3.2},{"m":"c4","d":"2017-04-22","v":3.35},{"m":"c4","d":"2017-05-30","v":3.35},{"m":"c4","d":"2017-06-07","v":2.9},{"m":"c4","d":"2017-06-14","v":2.1},{"m":"c4","d":"2017-06-22","v":1.1},{"m":"c4","d":"2017-06-29","v":0.55},{"m":"c4","d":"2017-07-07","v":0.22},{"m":"c4","d":"2017-07-14","v":0.05},{"m":"c4","d":"2017-07-18","v":0},{"m":"c4","d":"2017-11-20","v":0},
{"m":"c5","d":"2016-11-18","v":0.05},{"m":"c5","d":"2016-12-01","v":0.18},{"m":"c5","d":"2017-01-01","v":0.25},{"m":"c5","d":"2017-02-01","v":0.3},{"m":"c5","d":"2017-03-01","v":0.9},{"m":"c5","d":"2017-03-15","v":1.8},{"m":"c5","d":"2017-04-01","v":3.2},{"m":"c5","d":"2017-04-15","v":4.6},{"m":"c5","d":"2017-05-01","v":5.3},{"m":"c5","d":"2017-05-10","v":5.5},{"m":"c5","d":"2017-05-20","v":5.2},{"m":"c5","d":"2017-06-01","v":4.2},{"m":"c5","d":"2017-06-10","v":3.0},{"m":"c5","d":"2017-06-20","v":1.6},{"m":"c5","d":"2017-07-01","v":0.6},{"m":"c5","d":"2017-07-12","v":0.1},{"m":"c5","d":"2017-07-17","v":0},{"m":"c5","d":"2017-11-20","v":0},
{"m":"c6","d":"2016-11-18","v":0.05},{"m":"c6","d":"2016-12-01","v":0.18},{"m":"c6","d":"2017-01-01","v":0.25},{"m":"c6","d":"2017-02-01","v":0.3},{"m":"c6","d":"2017-03-01","v":0.8},{"m":"c6","d":"2017-03-15","v":1.5},{"m":"c6","d":"2017-04-01","v":2.8},{"m":"c6","d":"2017-04-15","v":4.0},{"m":"c6","d":"2017-05-01","v":4.9},{"m":"c6","d":"2017-05-15","v":5.2},{"m":"c6","d":"2017-05-25","v":4.8},{"m":"c6","d":"2017-06-05","v":3.7},{"m":"c6","d":"2017-06-15","v":2.3},{"m":"c6","d":"2017-06-25","v":1.0},{"m":"c6","d":"2017-07-05","v":0.3},{"m":"c6","d":"2017-07-15","v":0},{"m":"c6","d":"2017-11-20","v":0},
{"m":"c7","d":"2016-11-18","v":0.05},{"m":"c7","d":"2016-12-01","v":0.18},{"m":"c7","d":"2017-01-01","v":0.25},{"m":"c7","d":"2017-02-01","v":0.3},{"m":"c7","d":"2017-03-01","v":0.9},{"m":"c7","d":"2017-03-15","v":1.7},{"m":"c7","d":"2017-04-01","v":3.1},{"m":"c7","d":"2017-04-15","v":4.2},{"m":"c7","d":"2017-04-28","v":4.7},{"m":"c7","d":"2017-05-08","v":4.8},{"m":"c7","d":"2017-05-20","v":4.4},{"m":"c7","d":"2017-06-01","v":3.5},{"m":"c7","d":"2017-06-12","v":2.2},{"m":"c7","d":"2017-06-22","v":1.0},{"m":"c7","d":"2017-07-03","v":0.3},{"m":"c7","d":"2017-07-14","v":0},{"m":"c7","d":"2017-11-20","v":0},
{"m":"d0","d":"2016-11-20","v":0.05},{"m":"d0","d":"2016-12-01","v":0.22},{"m":"d0","d":"2017-01-01","v":0.3},{"m":"d0","d":"2017-02-01","v":0.38},{"m":"d0","d":"2017-02-15","v":0.6},{"m":"d0","d":"2017-02-25","v":0.85},{"m":"d0","d":"2017-03-04","v":1.05},{"m":"d0","d":"2017-03-08","v":1.1},{"m":"d0","d":"2017-06-05","v":1.1},{"m":"d0","d":"2017-06-12","v":1.0},{"m":"d0","d":"2017-06-22","v":0.72},{"m":"d0","d":"2017-07-01","v":0.4},{"m":"d0","d":"2017-07-10","v":0.12},{"m":"d0","d":"2017-07-17","v":0},{"m":"d0","d":"2017-11-20","v":0},
{"m":"d1","d":"2016-11-20","v":0.05},{"m":"d1","d":"2016-12-01","v":0.25},{"m":"d1","d":"2017-01-01","v":0.32},{"m":"d1","d":"2017-02-01","v":0.4},{"m":"d1","d":"2017-02-15","v":0.62},{"m":"d1","d":"2017-03-01","v":0.95},{"m":"d1","d":"2017-03-15","v":1.3},{"m":"d1","d":"2017-03-25","v":1.45},{"m":"d1","d":"2017-05-05","v":1.45},{"m":"d1","d":"2017-05-20","v":1.05},{"m":"d1","d":"2017-06-01","v":0.6},{"m":"d1","d":"2017-06-12","v":0.25},{"m":"d1","d":"2017-06-22","v":0.05},{"m":"d1","d":"2017-06-26","v":0},{"m":"d1","d":"2017-11-20","v":0},
{"m":"d2","d":"2016-11-20","v":0.05},{"m":"d2","d":"2016-12-01","v":0.25},{"m":"d2","d":"2017-01-01","v":0.3},{"m":"d2","d":"2017-02-01","v":0.38},{"m":"d2","d":"2017-02-15","v":0.6},{"m":"d2","d":"2017-03-01","v":0.9},{"m":"d2","d":"2017-03-15","v":1.2},{"m":"d2","d":"2017-03-22","v":1.3},{"m":"d2","d":"2017-05-20","v":1.3},{"m":"d2","d":"2017-06-05","v":0.85},{"m":"d2","d":"2017-06-18","v":0.4},{"m":"d2","d":"2017-06-28","v":0.1},{"m":"d2","d":"2017-07-03","v":0},{"m":"d2","d":"2017-11-20","v":0},
{"m":"d3","d":"2016-11-20","v":0.05},{"m":"d3","d":"2016-12-01","v":0.25},{"m":"d3","d":"2017-01-01","v":0.32},{"m":"d3","d":"2017-02-01","v":0.4},{"m":"d3","d":"2017-02-15","v":0.6},{"m":"d3","d":"2017-03-01","v":0.9},{"m":"d3","d":"2017-03-12","v":1.15},{"m":"d3","d":"2017-03-18","v":1.2},{"m":"d3","d":"2017-06-01","v":1.2},{"m":"d3","d":"2017-06-12","v":0.9},{"m":"d3","d":"2017-06-22","v":0.5},{"m":"d3","d":"2017-07-02","v":0.18},{"m":"d3","d":"2017-07-10","v":0},{"m":"d3","d":"2017-11-20","v":0},
{"m":"d4","d":"2016-11-20","v":0.05},{"m":"d4","d":"2016-12-01","v":0.2},{"m":"d4","d":"2017-01-01","v":0.28},{"m":"d4","d":"2017-02-01","v":0.36},{"m":"d4","d":"2017-02-15","v":0.55},{"m":"d4","d":"2017-03-01","v":0.85},{"m":"d4","d":"2017-03-10","v":1.0},{"m":"d4","d":"2017-05-25","v":1.0},{"m":"d4","d":"2017-06-05","v":0.75},{"m":"d4","d":"2017-06-15","v":0.4},{"m":"d4","d":"2017-06-25","v":0.1},{"m":"d4","d":"2017-07-01","v":0},{"m":"d4","d":"2017-11-20","v":0},
{"m":"d5","d":"2016-11-20","v":0.05},{"m":"d5","d":"2016-12-01","v":0.25},{"m":"d5","d":"2017-01-01","v":0.32},{"m":"d5","d":"2017-02-01","v":0.4},{"m":"d5","d":"2017-02-15","v":0.6},{"m":"d5","d":"2017-03-01","v":0.95},{"m":"d5","d":"2017-03-18","v":1.3},{"m":"d5","d":"2017-04-01","v":1.35},{"m":"d5","d":"2017-06-08","v":1.35},{"m":"d5","d":"2017-06-18","v":1.0},{"m":"d5","d":"2017-06-28","v":0.5},{"m":"d5","d":"2017-07-06","v":0.15},{"m":"d5","d":"2017-07-12","v":0},{"m":"d5","d":"2017-11-20","v":0},
{"m":"d6","d":"2016-11-20","v":0.05},{"m":"d6","d":"2016-12-01","v":0.25},{"m":"d6","d":"2017-01-01","v":0.3},{"m":"d6","d":"2017-02-01","v":0.38},{"m":"d6","d":"2017-02-15","v":0.6},{"m":"d6","d":"2017-03-01","v":0.9},{"m":"d6","d":"2017-03-10","v":1.1},{"m":"d6","d":"2017-05-01","v":1.1},{"m":"d6","d":"2017-05-15","v":0.85},{"m":"d6","d":"2017-05-28","v":0.45},{"m":"d6","d":"2017-06-10","v":0.12},{"m":"d6","d":"2017-06-20","v":0},{"m":"d6","d":"2017-11-20","v":0},
{"m":"d7","d":"2016-11-20","v":0.05},{"m":"d7","d":"2016-12-01","v":0.22},{"m":"d7","d":"2017-01-01","v":0.28},{"m":"d7","d":"2017-02-01","v":0.35},{"m":"d7","d":"2017-02-15","v":0.55},{"m":"d7","d":"2017-03-01","v":0.8},{"m":"d7","d":"2017-03-10","v":0.95},{"m":"d7","d":"2017-06-10","v":0.95},{"m":"d7","d":"2017-06-20","v":0.7},{"m":"d7","d":"2017-06-30","v":0.35},{"m":"d7","d":"2017-07-08","v":0.1},{"m":"d7","d":"2017-07-14","v":0},{"m":"d7","d":"2017-11-20","v":0},
{"m":"e0","d":"2016-11-15","v":0.02},{"m":"e0","d":"2016-11-25","v":0.14},{"m":"e0","d":"2016-12-15","v":0.16},{"m":"e0","d":"2017-02-01","v":0.17},{"m":"e0","d":"2017-04-01","v":0.17},{"m":"e0","d":"2017-05-20","v":0.16},{"m":"e0","d":"2017-06-05","v":0.1},{"m":"e0","d":"2017-06-18","v":0.03},{"m":"e0","d":"2017-06-24","v":0},{"m":"e0","d":"2017-11-20","v":0}]
},
"spacing":40,
"center":true,
"vconcat":[
{"hconcat":[
{"width":260,"height":181,"title":{"text":"(a) POI-00"},
"encoding":{"x":{"field":"d","type":"temporal","scale":{"domain":[{"year":2016,"month":10,"date":31},{"year":2017,"month":11,"date":16}]},"axis":{"values":[{"year":2016,"month":12,"date":1},{"year":2017,"month":1,"date":1},{"year":2017,"month":2,"date":1},{"year":2017,"month":3,"date":1},{"year":2017,"month":4,"date":1},{"year":2017,"month":5,"date":1},{"year":2017,"month":6,"date":1},{"year":2017,"month":7,"date":1},{"year":2017,"month":8,"date":1},{"year":2017,"month":9,"date":1},{"year":2017,"month":10,"date":1},{"year":2017,"month":11,"date":1}]}},
"y":{"field":"v","type":"quantitative","scale":{"domain":[0,7]},"axis":{"values":[0,2,4,6],"title":"GLAI (m².m⁻²)"}}},
"layer":[
{"data":{"name":"sim"},"transform":[{"filter":"indexof(datum.m,'a')==0"},{"lookup":"m","from":{"data":{"name":"mem"},"key":"m","fields":["w"]}}],"mark":{"type":"line","color":"#ff0000","strokeWidth":2,"interpolate":"monotone"},"encoding":{"detail":{"field":"m","type":"nominal"},"opacity":{"field":"w","type":"quantitative","scale":null}}},
{"data":{"name":"sim"},"transform":[{"filter":"datum.m=='a0'"}],"mark":{"type":"line","color":"#0000ff","strokeWidth":1.8,"strokeDash":[5,3],"opacity":0.65,"interpolate":"monotone"},"encoding":{}},
{"data":{"name":"obs"},"transform":[{"filter":"datum.p=='a'"},{"calculate":"datum.lo","as":"v"}],"mark":{"type":"rule","color":"#93b980","strokeWidth":3},"encoding":{"y2":{"field":"hi"}}},
{"data":{"name":"obs"},"transform":[{"filter":"datum.p=='a'"}],"mark":{"type":"circle","size":70,"color":"#3b6b27","opacity":0.95},"encoding":{}}
]},
{"width":306.6,"height":181,"view":{"stroke":null},
"encoding":{"x":{"field":"x","type":"quantitative","scale":{"domain":[-1.809,2.733]},"axis":null},"y":{"field":"y","type":"quantitative","scale":{"domain":[-1.356,1.326]},"axis":null}},
"layer":[
{"data":{"name":"axes"},"transform":[{"fold":["ri","ro"],"as":["ring","rr"]},{"calculate":"datum.rr*cos(datum.k*2*PI/7)","as":"x"},{"calculate":"datum.rr*sin(datum.k*2*PI/7)","as":"y"}],"mark":{"type":"line","interpolate":"linear-closed","color":"#222222","strokeWidth":0.9},"encoding":{"order":{"field":"k","type":"quantitative"},"detail":{"field":"ring","type":"nominal"}}},
{"data":{"name":"axes"},"transform":[{"calculate":"datum.ri*cos(datum.k*2*PI/7)","as":"x"},{"calculate":"datum.ri*sin(datum.k*2*PI/7)","as":"y"},{"calculate":"cos(datum.k*2*PI/7)","as":"xo"},{"calculate":"sin(datum.k*2*PI/7)","as":"yo"}],"mark":{"type":"rule","color":"#222222","strokeWidth":0.9},"encoding":{"x2":{"field":"xo"},"y2":{"field":"yo"}}},
{"data":{"name":"axes"},"transform":[{"calculate":"1.42*cos(datum.k*2*PI/7)","as":"x"},{"calculate":"1.42*sin(datum.k*2*PI/7)","as":"y"}],"mark":{"type":"text","fontSize":5.8,"fontWeight":"bold","color":"black"},"encoding":{"text":{"field":"name","type":"nominal"}}},
{"data":{"name":"axes"},"transform":[{"calculate":"1.14*cos(datum.k*2*PI/7)","as":"x"},{"calculate":"1.14*sin(datum.k*2*PI/7)","as":"y"}],"mark":{"type":"text","fontSize":4.2,"color":"#333333"},"encoding":{"text":{"field":"hi","type":"nominal"}}},
{"data":{"name":"axes"},"transform":[{"calculate":"0.2*cos(datum.k*2*PI/7)","as":"x"},{"calculate":"0.2*sin(datum.k*2*PI/7)","as":"y"}],"mark":{"type":"text","fontSize":4.2,"color":"#333333"},"encoding":{"text":{"field":"lo","type":"nominal"}}},
{"data":{"name":"rad"},"transform":[{"filter":"indexof(datum.m,'a')==0"},{"fold":["PRT_Lb","SLAb","LUEa","PRT_La","emerg","SENa","SENb"],"as":["key","val"]},{"calculate":"indexof(['PRT_Lb','SLAb','LUEa','PRT_La','emerg','SENa','SENb'],datum.key)","as":"k"},{"calculate":"(1+2*datum.val)/3*cos(datum.k*2*PI/7)","as":"x"},{"calculate":"(1+2*datum.val)/3*sin(datum.k*2*PI/7)","as":"y"}],"mark":{"type":"line","interpolate":"linear-closed","color":"#ff0000","strokeWidth":1},"encoding":{"order":{"field":"k","type":"quantitative"},"detail":{"field":"m","type":"nominal"},"opacity":{"field":"w","type":"quantitative","scale":null}}},
{"data":{"name":"rad"},"transform":[{"filter":"datum.m=='a0'"},{"fold":["PRT_Lb","SLAb","LUEa","PRT_La","emerg","SENa","SENb"],"as":["key","val"]},{"calculate":"indexof(['PRT_Lb','SLAb','LUEa','PRT_La','emerg','SENa','SENb'],datum.key)","as":"k"},{"calculate":"(1+2*datum.val)/3*cos(datum.k*2*PI/7)","as":"x"},{"calculate":"(1+2*datum.val)/3*sin(datum.k*2*PI/7)","as":"y"}],"mark":{"type":"line","interpolate":"linear-closed","color":"#0000ff","strokeWidth":1,"strokeDash":[3,2],"opacity":0.65},"encoding":{"order":{"field":"k","type":"quantitative"}}}
]},
{"width":267,"height":181,"title":{"text":"(b)\u00a0 POI-01"},
"encoding":{"x":{"field":"d","type":"temporal","scale":{"domain":[{"year":2016,"month":10,"date":26},{"year":2017,"month":11,"date":20}]},"axis":{"values":[{"year":2016,"month":12,"date":1},{"year":2017,"month":1,"date":1},{"year":2017,"month":2,"date":1},{"year":2017,"month":3,"date":1},{"year":2017,"month":4,"date":1},{"year":2017,"month":5,"date":1},{"year":2017,"month":6,"date":1},{"year":2017,"month":7,"date":1},{"year":2017,"month":8,"date":1},{"year":2017,"month":9,"date":1},{"year":2017,"month":10,"date":1},{"year":2017,"month":11,"date":1}]}},
"y":{"field":"v","type":"quantitative","scale":{"domain":[0,7]},"axis":{"values":[0,2,4,6],"title":"GLAI (m².m⁻²)"}}},
"layer":[
{"data":{"name":"sim"},"transform":[{"filter":"indexof(datum.m,'b')==0"},{"lookup":"m","from":{"data":{"name":"mem"},"key":"m","fields":["w"]}}],"mark":{"type":"line","color":"#ff0000","strokeWidth":2,"interpolate":"monotone"},"encoding":{"detail":{"field":"m","type":"nominal"},"opacity":{"field":"w","type":"quantitative","scale":null}}},
{"data":{"name":"sim"},"transform":[{"filter":"datum.m=='b0'"}],"mark":{"type":"line","color":"#0000ff","strokeWidth":1.8,"strokeDash":[5,3],"opacity":0.65,"interpolate":"monotone"},"encoding":{}},
{"data":{"name":"obs"},"transform":[{"filter":"datum.p=='b'"},{"calculate":"datum.lo","as":"v"}],"mark":{"type":"rule","color":"#93b980","strokeWidth":3},"encoding":{"y2":{"field":"hi"}}},
{"data":{"name":"obs"},"transform":[{"filter":"datum.p=='b'"}],"mark":{"type":"circle","size":70,"color":"#3b6b27","opacity":0.95},"encoding":{}}
]},
{"width":215,"height":181,"view":{"stroke":null},
"encoding":{"x":{"field":"x","type":"quantitative","scale":{"domain":[-1.64,1.545]},"axis":null},"y":{"field":"y","type":"quantitative","scale":{"domain":[-1.356,1.326]},"axis":null}},
"layer":[
{"data":{"name":"axes"},"transform":[{"fold":["ri","ro"],"as":["ring","rr"]},{"calculate":"datum.rr*cos(datum.k*2*PI/7)","as":"x"},{"calculate":"datum.rr*sin(datum.k*2*PI/7)","as":"y"}],"mark":{"type":"line","interpolate":"linear-closed","color":"#222222","strokeWidth":0.9},"encoding":{"order":{"field":"k","type":"quantitative"},"detail":{"field":"ring","type":"nominal"}}},
{"data":{"name":"axes"},"transform":[{"calculate":"datum.ri*cos(datum.k*2*PI/7)","as":"x"},{"calculate":"datum.ri*sin(datum.k*2*PI/7)","as":"y"},{"calculate":"cos(datum.k*2*PI/7)","as":"xo"},{"calculate":"sin(datum.k*2*PI/7)","as":"yo"}],"mark":{"type":"rule","color":"#222222","strokeWidth":0.9},"encoding":{"x2":{"field":"xo"},"y2":{"field":"yo"}}},
{"data":{"name":"axes"},"transform":[{"calculate":"1.42*cos(datum.k*2*PI/7)","as":"x"},{"calculate":"1.42*sin(datum.k*2*PI/7)","as":"y"}],"mark":{"type":"text","fontSize":5.8,"fontWeight":"bold","color":"black"},"encoding":{"text":{"field":"name","type":"nominal"}}},
{"data":{"name":"axes"},"transform":[{"calculate":"1.14*cos(datum.k*2*PI/7)","as":"x"},{"calculate":"1.14*sin(datum.k*2*PI/7)","as":"y"}],"mark":{"type":"text","fontSize":4.2,"color":"#333333"},"encoding":{"text":{"field":"hi","type":"nominal"}}},
{"data":{"name":"axes"},"transform":[{"calculate":"0.2*cos(datum.k*2*PI/7)","as":"x"},{"calculate":"0.2*sin(datum.k*2*PI/7)","as":"y"}],"mark":{"type":"text","fontSize":4.2,"color":"#333333"},"encoding":{"text":{"field":"lo","type":"nominal"}}},
{"data":{"name":"rad"},"transform":[{"filter":"indexof(datum.m,'b')==0"},{"fold":["PRT_Lb","SLAb","LUEa","PRT_La","emerg","SENa","SENb"],"as":["key","val"]},{"calculate":"indexof(['PRT_Lb','SLAb','LUEa','PRT_La','emerg','SENa','SENb'],datum.key)","as":"k"},{"calculate":"(1+2*datum.val)/3*cos(datum.k*2*PI/7)","as":"x"},{"calculate":"(1+2*datum.val)/3*sin(datum.k*2*PI/7)","as":"y"}],"mark":{"type":"line","interpolate":"linear-closed","color":"#ff0000","strokeWidth":1},"encoding":{"order":{"field":"k","type":"quantitative"},"detail":{"field":"m","type":"nominal"},"opacity":{"field":"w","type":"quantitative","scale":null}}},
{"data":{"name":"rad"},"transform":[{"filter":"datum.m=='b0'"},{"fold":["PRT_Lb","SLAb","LUEa","PRT_La","emerg","SENa","SENb"],"as":["key","val"]},{"calculate":"indexof(['PRT_Lb','SLAb','LUEa','PRT_La','emerg','SENa','SENb'],datum.key)","as":"k"},{"calculate":"(1+2*datum.val)/3*cos(datum.k*2*PI/7)","as":"x"},{"calculate":"(1+2*datum.val)/3*sin(datum.k*2*PI/7)","as":"y"}],"mark":{"type":"line","interpolate":"linear-closed","color":"#0000ff","strokeWidth":1,"strokeDash":[3,2],"opacity":0.65},"encoding":{"order":{"field":"k","type":"quantitative"}}}
]}
],"spacing":10,"bounds":"flush"},
{"hconcat":[
{"width":268,"height":181,"title":{"text":"(c)\u00a0 POI-02"},
"encoding":{"x":{"field":"d","type":"temporal","scale":{"domain":[{"year":2016,"month":10,"date":25},{"year":2017,"month":11,"date":24}]},"axis":{"values":[{"year":2016,"month":12,"date":1},{"year":2017,"month":1,"date":1},{"year":2017,"month":2,"date":1},{"year":2017,"month":3,"date":1},{"year":2017,"month":4,"date":1},{"year":2017,"month":5,"date":1},{"year":2017,"month":6,"date":1},{"year":2017,"month":7,"date":1},{"year":2017,"month":8,"date":1},{"year":2017,"month":9,"date":1},{"year":2017,"month":10,"date":1},{"year":2017,"month":11,"date":1}]}},
"y":{"field":"v","type":"quantitative","scale":{"domain":[0,7]},"axis":{"values":[0,2,4,6],"title":"GLAI (m².m⁻²)"}}},
"layer":[
{"data":{"name":"sim"},"transform":[{"filter":"indexof(datum.m,'c')==0"},{"lookup":"m","from":{"data":{"name":"mem"},"key":"m","fields":["w"]}}],"mark":{"type":"line","color":"#ff0000","strokeWidth":2,"interpolate":"monotone"},"encoding":{"detail":{"field":"m","type":"nominal"},"opacity":{"field":"w","type":"quantitative","scale":null}}},
{"data":{"name":"sim"},"transform":[{"filter":"datum.m=='c0'"}],"mark":{"type":"line","color":"#0000ff","strokeWidth":1.8,"strokeDash":[5,3],"opacity":0.65,"interpolate":"monotone"},"encoding":{}},
{"data":{"name":"obs"},"transform":[{"filter":"datum.p=='c'"},{"calculate":"datum.lo","as":"v"}],"mark":{"type":"rule","color":"#93b980","strokeWidth":3},"encoding":{"y2":{"field":"hi"}}},
{"data":{"name":"obs"},"transform":[{"filter":"datum.p=='c'"}],"mark":{"type":"circle","size":70,"color":"#3b6b27","opacity":0.95},"encoding":{}}
]},
{"width":298.6,"height":181,"view":{"stroke":null},
"encoding":{"x":{"field":"x","type":"quantitative","scale":{"domain":[-1.634,2.79]},"axis":null},"y":{"field":"y","type":"quantitative","scale":{"domain":[-1.356,1.326]},"axis":null}},
"layer":[
{"data":{"name":"axes"},"transform":[{"fold":["ri","ro"],"as":["ring","rr"]},{"calculate":"datum.rr*cos(datum.k*2*PI/7)","as":"x"},{"calculate":"datum.rr*sin(datum.k*2*PI/7)","as":"y"}],"mark":{"type":"line","interpolate":"linear-closed","color":"#222222","strokeWidth":0.9},"encoding":{"order":{"field":"k","type":"quantitative"},"detail":{"field":"ring","type":"nominal"}}},
{"data":{"name":"axes"},"transform":[{"calculate":"datum.ri*cos(datum.k*2*PI/7)","as":"x"},{"calculate":"datum.ri*sin(datum.k*2*PI/7)","as":"y"},{"calculate":"cos(datum.k*2*PI/7)","as":"xo"},{"calculate":"sin(datum.k*2*PI/7)","as":"yo"}],"mark":{"type":"rule","color":"#222222","strokeWidth":0.9},"encoding":{"x2":{"field":"xo"},"y2":{"field":"yo"}}},
{"data":{"name":"axes"},"transform":[{"calculate":"1.42*cos(datum.k*2*PI/7)","as":"x"},{"calculate":"1.42*sin(datum.k*2*PI/7)","as":"y"}],"mark":{"type":"text","fontSize":5.8,"fontWeight":"bold","color":"black"},"encoding":{"text":{"field":"name","type":"nominal"}}},
{"data":{"name":"axes"},"transform":[{"calculate":"1.14*cos(datum.k*2*PI/7)","as":"x"},{"calculate":"1.14*sin(datum.k*2*PI/7)","as":"y"}],"mark":{"type":"text","fontSize":4.2,"color":"#333333"},"encoding":{"text":{"field":"hi","type":"nominal"}}},
{"data":{"name":"axes"},"transform":[{"calculate":"0.2*cos(datum.k*2*PI/7)","as":"x"},{"calculate":"0.2*sin(datum.k*2*PI/7)","as":"y"}],"mark":{"type":"text","fontSize":4.2,"color":"#333333"},"encoding":{"text":{"field":"lo","type":"nominal"}}},
{"data":{"name":"rad"},"transform":[{"filter":"indexof(datum.m,'c')==0"},{"fold":["PRT_Lb","SLAb","LUEa","PRT_La","emerg","SENa","SENb"],"as":["key","val"]},{"calculate":"indexof(['PRT_Lb','SLAb','LUEa','PRT_La','emerg','SENa','SENb'],datum.key)","as":"k"},{"calculate":"(1+2*datum.val)/3*cos(datum.k*2*PI/7)","as":"x"},{"calculate":"(1+2*datum.val)/3*sin(datum.k*2*PI/7)","as":"y"}],"mark":{"type":"line","interpolate":"linear-closed","color":"#ff0000","strokeWidth":1},"encoding":{"order":{"field":"k","type":"quantitative"},"detail":{"field":"m","type":"nominal"},"opacity":{"field":"w","type":"quantitative","scale":null}}},
{"data":{"name":"rad"},"transform":[{"filter":"datum.m=='c0'"},{"fold":["PRT_Lb","SLAb","LUEa","PRT_La","emerg","SENa","SENb"],"as":["key","val"]},{"calculate":"indexof(['PRT_Lb','SLAb','LUEa','PRT_La','emerg','SENa','SENb'],datum.key)","as":"k"},{"calculate":"(1+2*datum.val)/3*cos(datum.k*2*PI/7)","as":"x"},{"calculate":"(1+2*datum.val)/3*sin(datum.k*2*PI/7)","as":"y"}],"mark":{"type":"line","interpolate":"linear-closed","color":"#0000ff","strokeWidth":1,"strokeDash":[3,2],"opacity":0.65},"encoding":{"order":{"field":"k","type":"quantitative"}}}
]},
{"width":267,"height":181,"title":{"text":"(d)\u00a0 POI-03"},
"encoding":{"x":{"field":"d","type":"temporal","scale":{"domain":[{"year":2016,"month":10,"date":26},{"year":2017,"month":11,"date":20}]},"axis":{"values":[{"year":2016,"month":12,"date":1},{"year":2017,"month":1,"date":1},{"year":2017,"month":2,"date":1},{"year":2017,"month":3,"date":1},{"year":2017,"month":4,"date":1},{"year":2017,"month":5,"date":1},{"year":2017,"month":6,"date":1},{"year":2017,"month":7,"date":1},{"year":2017,"month":8,"date":1},{"year":2017,"month":9,"date":1},{"year":2017,"month":10,"date":1},{"year":2017,"month":11,"date":1}]}},
"y":{"field":"v","type":"quantitative","scale":{"domain":[0,7]},"axis":{"values":[0,2,4,6],"title":"GLAI (m².m⁻²)"}}},
"layer":[
{"data":{"name":"sim"},"transform":[{"filter":"indexof(datum.m,'d')==0"},{"lookup":"m","from":{"data":{"name":"mem"},"key":"m","fields":["w"]}}],"mark":{"type":"line","color":"#ff0000","strokeWidth":2,"interpolate":"monotone"},"encoding":{"detail":{"field":"m","type":"nominal"},"opacity":{"field":"w","type":"quantitative","scale":null}}},
{"data":{"name":"sim"},"transform":[{"filter":"datum.m=='d0'"}],"mark":{"type":"line","color":"#0000ff","strokeWidth":1.8,"strokeDash":[5,3],"opacity":0.65,"interpolate":"monotone"},"encoding":{}},
{"data":{"name":"obs"},"transform":[{"filter":"datum.p=='d'"},{"calculate":"datum.lo","as":"v"}],"mark":{"type":"rule","color":"#93b980","strokeWidth":3},"encoding":{"y2":{"field":"hi"}}},
{"data":{"name":"obs"},"transform":[{"filter":"datum.p=='d'"}],"mark":{"type":"circle","size":70,"color":"#3b6b27","opacity":0.95},"encoding":{}}
]},
{"width":215,"height":181,"view":{"stroke":null},
"encoding":{"x":{"field":"x","type":"quantitative","scale":{"domain":[-1.636,1.55]},"axis":null},"y":{"field":"y","type":"quantitative","scale":{"domain":[-1.356,1.326]},"axis":null}},
"layer":[
{"data":{"name":"axes"},"transform":[{"fold":["ri","ro"],"as":["ring","rr"]},{"calculate":"datum.rr*cos(datum.k*2*PI/7)","as":"x"},{"calculate":"datum.rr*sin(datum.k*2*PI/7)","as":"y"}],"mark":{"type":"line","interpolate":"linear-closed","color":"#222222","strokeWidth":0.9},"encoding":{"order":{"field":"k","type":"quantitative"},"detail":{"field":"ring","type":"nominal"}}},
{"data":{"name":"axes"},"transform":[{"calculate":"datum.ri*cos(datum.k*2*PI/7)","as":"x"},{"calculate":"datum.ri*sin(datum.k*2*PI/7)","as":"y"},{"calculate":"cos(datum.k*2*PI/7)","as":"xo"},{"calculate":"sin(datum.k*2*PI/7)","as":"yo"}],"mark":{"type":"rule","color":"#222222","strokeWidth":0.9},"encoding":{"x2":{"field":"xo"},"y2":{"field":"yo"}}},
{"data":{"name":"axes"},"transform":[{"calculate":"1.42*cos(datum.k*2*PI/7)","as":"x"},{"calculate":"1.42*sin(datum.k*2*PI/7)","as":"y"}],"mark":{"type":"text","fontSize":5.8,"fontWeight":"bold","color":"black"},"encoding":{"text":{"field":"name","type":"nominal"}}},
{"data":{"name":"axes"},"transform":[{"calculate":"1.14*cos(datum.k*2*PI/7)","as":"x"},{"calculate":"1.14*sin(datum.k*2*PI/7)","as":"y"}],"mark":{"type":"text","fontSize":4.2,"color":"#333333"},"encoding":{"text":{"field":"hi","type":"nominal"}}},
{"data":{"name":"axes"},"transform":[{"calculate":"0.2*cos(datum.k*2*PI/7)","as":"x"},{"calculate":"0.2*sin(datum.k*2*PI/7)","as":"y"}],"mark":{"type":"text","fontSize":4.2,"color":"#333333"},"encoding":{"text":{"field":"lo","type":"nominal"}}},
{"data":{"name":"rad"},"transform":[{"filter":"indexof(datum.m,'d')==0"},{"fold":["PRT_Lb","SLAb","LUEa","PRT_La","emerg","SENa","SENb"],"as":["key","val"]},{"calculate":"indexof(['PRT_Lb','SLAb','LUEa','PRT_La','emerg','SENa','SENb'],datum.key)","as":"k"},{"calculate":"(1+2*datum.val)/3*cos(datum.k*2*PI/7)","as":"x"},{"calculate":"(1+2*datum.val)/3*sin(datum.k*2*PI/7)","as":"y"}],"mark":{"type":"line","interpolate":"linear-closed","color":"#ff0000","strokeWidth":1},"encoding":{"order":{"field":"k","type":"quantitative"},"detail":{"field":"m","type":"nominal"},"opacity":{"field":"w","type":"quantitative","scale":null}}},
{"data":{"name":"rad"},"transform":[{"filter":"datum.m=='d0'"},{"fold":["PRT_Lb","SLAb","LUEa","PRT_La","emerg","SENa","SENb"],"as":["key","val"]},{"calculate":"indexof(['PRT_Lb','SLAb','LUEa','PRT_La','emerg','SENa','SENb'],datum.key)","as":"k"},{"calculate":"(1+2*datum.val)/3*cos(datum.k*2*PI/7)","as":"x"},{"calculate":"(1+2*datum.val)/3*sin(datum.k*2*PI/7)","as":"y"}],"mark":{"type":"line","interpolate":"linear-closed","color":"#0000ff","strokeWidth":1,"strokeDash":[3,2],"opacity":0.65},"encoding":{"order":{"field":"k","type":"quantitative"}}}
]}
],"spacing":10,"bounds":"flush"},
{"hconcat":[
{"width":268,"height":181,"title":{"text":"(e)\u00a0 POI-04"},
"encoding":{"x":{"field":"d","type":"temporal","scale":{"domain":[{"year":2016,"month":10,"date":25},{"year":2017,"month":11,"date":25}]},"axis":{"values":[{"year":2016,"month":12,"date":1},{"year":2017,"month":1,"date":1},{"year":2017,"month":2,"date":1},{"year":2017,"month":3,"date":1},{"year":2017,"month":4,"date":1},{"year":2017,"month":5,"date":1},{"year":2017,"month":6,"date":1},{"year":2017,"month":7,"date":1},{"year":2017,"month":8,"date":1},{"year":2017,"month":9,"date":1},{"year":2017,"month":10,"date":1},{"year":2017,"month":11,"date":1}]}},
"y":{"field":"v","type":"quantitative","scale":{"domain":[0,7]},"axis":{"values":[0,2,4,6],"title":"GLAI (m².m⁻²)"}}},
"layer":[
{"data":{"name":"sim"},"transform":[{"filter":"datum.m=='e0'"}],"mark":{"type":"line","color":"#0000ff","strokeWidth":1.8,"strokeDash":[5,3],"opacity":0.55,"interpolate":"monotone"},"encoding":{}},
{"data":{"name":"obs"},"transform":[{"filter":"datum.p=='e'"},{"calculate":"datum.lo","as":"v"}],"mark":{"type":"rule","color":"#93b980","strokeWidth":3},"encoding":{"y2":{"field":"hi"}}},
{"data":{"name":"obs"},"transform":[{"filter":"datum.p=='e'"}],"mark":{"type":"circle","size":70,"color":"#3b6b27","opacity":0.95},"encoding":{}}
]},
{"width":220,"height":181,"view":{"stroke":null},
"encoding":{"x":{"field":"x","type":"quantitative","scale":{"domain":[-1.619,1.64]},"axis":null},"y":{"field":"y","type":"quantitative","scale":{"domain":[-1.356,1.326]},"axis":null}},
"layer":[
{"data":{"name":"axes"},"transform":[{"fold":["ri","ro"],"as":["ring","rr"]},{"calculate":"datum.rr*cos(datum.k*2*PI/7)","as":"x"},{"calculate":"datum.rr*sin(datum.k*2*PI/7)","as":"y"}],"mark":{"type":"line","interpolate":"linear-closed","color":"#222222","strokeWidth":0.9},"encoding":{"order":{"field":"k","type":"quantitative"},"detail":{"field":"ring","type":"nominal"}}},
{"data":{"name":"axes"},"transform":[{"calculate":"datum.ri*cos(datum.k*2*PI/7)","as":"x"},{"calculate":"datum.ri*sin(datum.k*2*PI/7)","as":"y"},{"calculate":"cos(datum.k*2*PI/7)","as":"xo"},{"calculate":"sin(datum.k*2*PI/7)","as":"yo"}],"mark":{"type":"rule","color":"#222222","strokeWidth":0.9},"encoding":{"x2":{"field":"xo"},"y2":{"field":"yo"}}},
{"data":{"name":"axes"},"transform":[{"calculate":"1.42*cos(datum.k*2*PI/7)","as":"x"},{"calculate":"1.42*sin(datum.k*2*PI/7)","as":"y"}],"mark":{"type":"text","fontSize":5.8,"fontWeight":"bold","color":"black"},"encoding":{"text":{"field":"name","type":"nominal"}}},
{"data":{"name":"axes"},"transform":[{"calculate":"1.14*cos(datum.k*2*PI/7)","as":"x"},{"calculate":"1.14*sin(datum.k*2*PI/7)","as":"y"}],"mark":{"type":"text","fontSize":4.2,"color":"#333333"},"encoding":{"text":{"field":"hi","type":"nominal"}}},
{"data":{"name":"axes"},"transform":[{"calculate":"0.2*cos(datum.k*2*PI/7)","as":"x"},{"calculate":"0.2*sin(datum.k*2*PI/7)","as":"y"}],"mark":{"type":"text","fontSize":4.2,"color":"#333333"},"encoding":{"text":{"field":"lo","type":"nominal"}}},
{"data":{"name":"rad"},"transform":[{"filter":"datum.m=='e0'"},{"fold":["PRT_Lb","SLAb","LUEa","PRT_La","emerg","SENa","SENb"],"as":["key","val"]},{"calculate":"indexof(['PRT_Lb','SLAb','LUEa','PRT_La','emerg','SENa','SENb'],datum.key)","as":"k"},{"calculate":"(1+2*datum.val)/3*cos(datum.k*2*PI/7)","as":"x"},{"calculate":"(1+2*datum.val)/3*sin(datum.k*2*PI/7)","as":"y"}],"mark":{"type":"line","interpolate":"linear-closed","color":"#0000ff","strokeWidth":1,"strokeDash":[3,2],"opacity":0.55},"encoding":{"order":{"field":"k","type":"quantitative"}}}
]}
],"spacing":10,"bounds":"flush"}
]
}
